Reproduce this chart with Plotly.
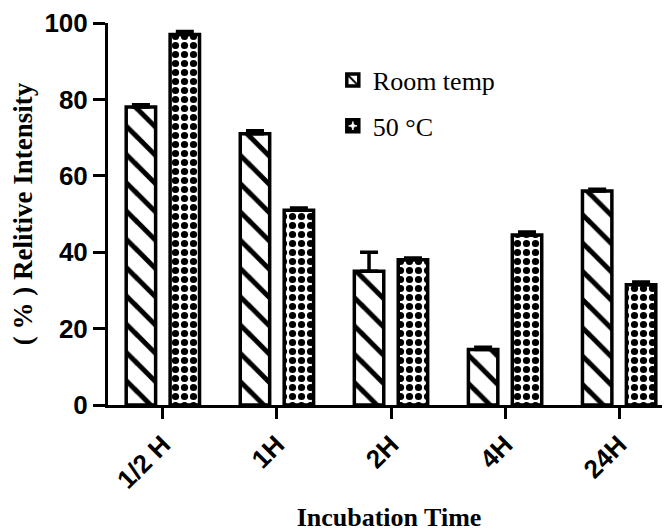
import plotly.graph_objects as go

categories = ["1/2 H", "1H", "2H", "4H", "24H"]
room_temp = [78, 71, 35, 14.5, 56]
room_err = [0.6, 0.8, 5.0, 0.6, 0.5]
hot_50 = [97, 51, 38, 44.5, 31.5]
hot_err = [0.8, 0.6, 0.5, 0.8, 0.7]
y_ticks = [0, 20, 40, 60, 80, 100]

fig = go.Figure()
fig.add_trace(go.Bar(
    x=categories, y=room_temp, name="Room temp", legendgroup="a",
    marker=dict(color="white", line=dict(color="black", width=3.5),
                pattern=dict(shape="\\", fgcolor="black", bgcolor="white", fgopacity=1,
                             size=20, solidity=0.25)),
    error_y=dict(type="data", symmetric=False, array=room_err, arrayminus=[0]*5,
                 color="black", thickness=3.5, width=9),
))
fig.add_trace(go.Bar(
    x=categories, y=hot_50, name="50 °C", legendgroup="b",
    marker=dict(color="white", line=dict(color="black", width=3.5),
                pattern=dict(shape=".", fgcolor="black", bgcolor="white", fgopacity=1,
                             size=9, solidity=0.5)),
    error_y=dict(type="data", symmetric=False, array=hot_err, arrayminus=[0]*5,
                 color="black", thickness=3.5, width=9),
))

fig.update_layout(
    width=670, height=532,
    margin=dict(l=100, r=8, t=15, b=135),
    plot_bgcolor="white", paper_bgcolor="white",
    barmode="group", bargap=0.23, bargroupgap=0.33,
    showlegend=True,
    legend=dict(x=0.40, y=0.912, xanchor="left", yanchor="top",
                font=dict(family="Liberation Serif", size=26, color="black"),
                tracegroupgap=9, bgcolor="rgba(0,0,0,0)"),
)
fig.update_xaxes(
    range=[-0.481, 4.446], showline=True, linecolor="black", linewidth=3,
    ticks="outside", ticklen=11, tickwidth=3, tickcolor="black",
    tickangle=-45, tickfont=dict(family="Liberation Sans", size=26, color="black", weight="bold"),
    title=dict(text="<b>Incubation Time</b>", font=dict(family="Liberation Serif", size=26, color="black"), standoff=15),
    showgrid=False, zeroline=False, automargin=False,
)
fig.update_yaxes(
    range=[0, 100], tickvals=y_ticks, showline=True, linecolor="black", linewidth=3,
    ticks="outside", ticklen=12, tickwidth=3, tickcolor="black",
    tickfont=dict(family="Liberation Sans", size=26, color="black", weight="bold"),
    title=dict(text="<b>( % ) Relitive Intensity</b>", font=dict(family="Liberation Serif", size=27, color="black"), standoff=10),
    showgrid=False, zeroline=False, automargin=False,
)

fig.write_html("out.html")
